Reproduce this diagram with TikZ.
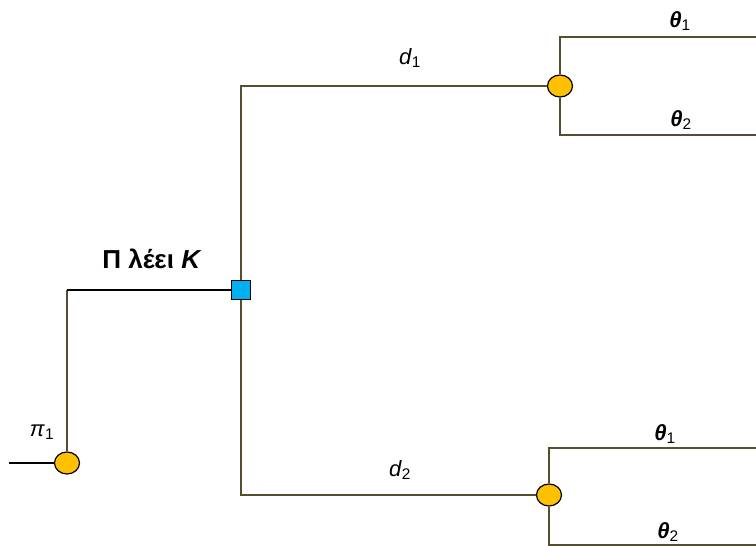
\documentclass[tikz,border=0pt]{standalone}
\usepackage{fontspec}
\setmainfont{Liberation Sans}
\definecolor{linec}{RGB}{85,78,50}
\definecolor{chance}{RGB}{255,192,0}
\definecolor{dec}{RGB}{0,176,240}
\usetikzlibrary{shapes.geometric}
\tikzset{
  br/.style={draw=linec, line width=1.6pt},
  bk/.style={draw=black, line width=1.4pt},
  chancenode/.style={ellipse, draw=black, line width=1.2pt, fill=chance, minimum width=25pt, minimum height=22pt, inner sep=0pt},
  decnode/.style={rectangle, draw=black, line width=1.2pt, fill=dec, minimum size=19pt, inner sep=0pt},
  lab/.style={font=\fontsize{22}{26}\selectfont, inner sep=0pt},
  biglab/.style={font=\bfseries\fontsize{26}{30}\selectfont, inner sep=0pt},
}
\begin{document}
\begin{tikzpicture}[x=1pt,y=-1pt]
\useasboundingbox (0,0) rectangle (756,546);
% coordinates
\coordinate (start) at (9,463);
\coordinate (c0top) at (67,290);
\coordinate (sqtop) at (241,86);
\coordinate (sqbot) at (241,495);
\coordinate (atop) at (560,37);
\coordinate (abot) at (560,135);
\coordinate (atopr) at (756,37);
\coordinate (abotr) at (756,135);
\coordinate (btop) at (549,448);
\coordinate (bbot) at (549,545);
\coordinate (btopr) at (756,448);
\coordinate (bbotr) at (756,545);
% nodes
\node[chancenode] (c0) at (67,463) {};
\node[decnode] (sq) at (241,290) {};
\node[chancenode] (ca) at (560,86) {};
\node[chancenode] (cb) at (549,495) {};
% edges
\draw[bk] (start) -- (c0.west);
\draw[br] (c0.north) -- (c0top);
\draw[bk] (c0top) -- (sq.west);
\draw[br] (sq.north) -- (sqtop) -- (ca.west);
\draw[br] (sq.south) -- (sqbot) -- (cb.west);
\draw[br] (ca.north) -- (atop) -- (atopr);
\draw[br] (ca.south) -- (abot) -- (abotr);
\draw[br] (cb.north) -- (btop) -- (btopr);
\draw[br] (cb.south) -- (bbot) -- (bbotr);
% labels
\node[lab] (lpi) at (42,432) {\textit{π}\textsubscript{1}};
\node[biglab] (lk) at (152,259) {Π λέει \textit{K}};
\node[lab] (ld1) at (410,58) {\textit{d}\textsubscript{1}};
\node[lab] (ld2) at (400,470) {\textit{d}\textsubscript{2}};
\node[lab] (lt1a) at (680,21) {\textbf{\textit{θ}}\textsubscript{1}};
\node[lab] (lt2a) at (681,120) {\textbf{\textit{θ}}\textsubscript{2}};
\node[lab] (lt1b) at (665,434) {\textbf{\textit{θ}}\textsubscript{1}};
\node[lab] (lt2b) at (668,532) {\textbf{\textit{θ}}\textsubscript{2}};
\end{tikzpicture}
\end{document}
